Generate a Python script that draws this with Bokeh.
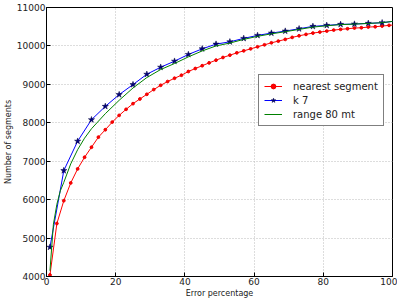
from bokeh.plotting import figure
from bokeh.models import Range1d, Legend, LegendItem, FixedTicker
from bokeh.embed import file_html
from bokeh.resources import INLINE

# nearest segment
red_x = list(range(1, 102, 2))
red_y = [4040, 5379, 5972, 6434, 6800, 7103, 7364, 7626, 7819, 8018,
         8193, 8350, 8498, 8619, 8741, 8864, 8976, 9073, 9159, 9237,
         9334, 9412, 9485, 9559, 9629, 9699, 9759, 9820, 9872, 9924,
         9977, 10029, 10081, 10125, 10170, 10222, 10264, 10300, 10334, 10360,
         10386, 10412, 10431, 10447, 10465, 10473, 10491, 10499, 10517, 10535,
         10550]

# k 7
blue_x = list(range(1, 102, 4))
blue_y = [4763, 6756, 7521, 8080, 8427, 8733, 8994, 9263, 9446, 9603,
          9778, 9924, 10047, 10107, 10196, 10274, 10334, 10386, 10447, 10509,
          10535, 10561, 10569, 10587, 10603, 10650]

# range 80 mt
green_x = [1, 2, 3, 4, 5, 7, 9, 11, 13, 17, 21, 25, 29, 33, 37, 41, 45, 49,
           53, 57, 61, 65, 69, 73, 77, 81, 85, 89, 93, 97, 101]
green_y = [4150, 5360, 5880, 6230, 6450, 6930, 7300, 7600, 7845, 8237,
           8585, 8906, 9177, 9386, 9542, 9715, 9870, 10000, 10075, 10170,
           10250, 10315, 10370, 10430, 10490, 10525, 10555, 10568, 10585, 10605,
           10650]

x_ticks = [0, 20, 40, 60, 80, 100]
y_ticks = [4000, 5000, 6000, 7000, 8000, 9000, 10000, 11000]

FONT = "DejaVu Sans"

p = figure(width=397, height=300, output_backend="svg", toolbar_location=None,
           x_range=Range1d(0, 100), y_range=Range1d(4000, 11000),
           min_border_left=46, min_border_right=5, min_border_top=7,
           min_border_bottom=24)

p.outline_line_color = "black"
p.outline_line_width = 1
p.background_fill_color = "white"
p.border_fill_color = "white"

for ax in (p.xaxis[0], p.yaxis[0]):
    ax.major_tick_in = 4
    ax.major_tick_out = 0
    ax.minor_tick_in = 0
    ax.minor_tick_out = 0
    ax.axis_line_color = "black"
    ax.major_tick_line_color = "black"
    ax.major_label_text_font = FONT
    ax.major_label_text_font_size = "9px"
    ax.major_label_text_color = "#222222"
    ax.axis_label_text_font = FONT
    ax.axis_label_text_font_size = "8px"
    ax.axis_label_text_font_style = "normal"
    ax.axis_label_text_color = "#222222"

p.xaxis[0].ticker = FixedTicker(ticks=x_ticks)
p.yaxis[0].ticker = FixedTicker(ticks=y_ticks)
p.xaxis[0].axis_label = "Error percentage"
p.yaxis[0].axis_label = "Number of segments"
p.xaxis[0].major_label_standoff = 1
p.xaxis[0].axis_label_standoff = 1
p.yaxis[0].major_label_standoff = 1
p.yaxis[0].axis_label_standoff = 1

p.grid.grid_line_color = "#bbbbbb"
p.grid.grid_line_dash = "1 2"
p.grid.grid_line_width = 1
p.xgrid.ticker = FixedTicker(ticks=x_ticks)
p.ygrid.ticker = FixedTicker(ticks=y_ticks)

r_line = p.line(red_x, red_y, line_color="#ff0000", line_width=1)
r_pts = p.scatter(red_x, red_y, marker="circle", size=2.8,
                  fill_color="#ff0000", line_color="#ee0000")
b_line = p.line(blue_x, blue_y, line_color="#0000ff", line_width=1)
b_pts = p.scatter(blue_x, blue_y, marker="star", size=6.5,
                  fill_color="#00007a", line_color="#000040", line_width=0.5)
g_line = p.line(green_x, green_y, line_color="#008000", line_width=1)

legend = Legend(items=[
    LegendItem(label="nearest segment", renderers=[r_line, r_pts]),
    LegendItem(label="k 7", renderers=[b_line, b_pts]),
    LegendItem(label="range 80 mt", renderers=[g_line]),
], location=(212, 150))
legend.label_text_font = FONT
legend.label_text_font_size = "10px"
legend.label_text_color = "#222222"
legend.glyph_width = 18
legend.glyph_height = 12
legend.label_height = 12
legend.label_standoff = 11
legend.spacing = 2
legend.padding = 5
legend.margin = 0
legend.border_line_color = "black"
legend.border_line_width = 1
legend.background_fill_color = "white"
legend.background_fill_alpha = 1.0
p.add_layout(legend, "center")

open("out.html", "w").write(file_html(p, INLINE))
